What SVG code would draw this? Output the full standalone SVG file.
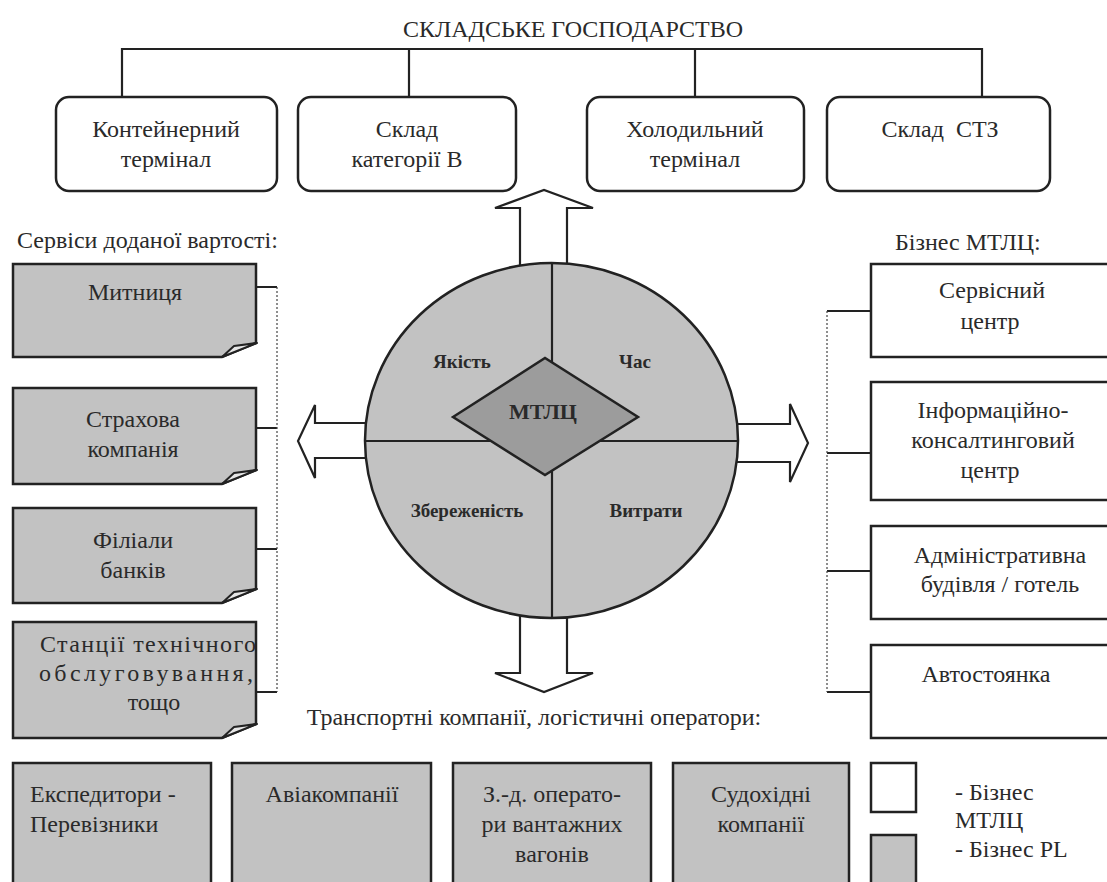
<svg xmlns="http://www.w3.org/2000/svg" width="1107" height="882" viewBox="0 0 1107 882">
<style>
text{font-family:"Liberation Serif","Times New Roman",serif;font-size:24px;fill:#2a2a2a}
.c{text-anchor:middle}
.b{font-weight:bold;font-size:19px}
.m{font-weight:bold;font-size:22px}
.box{fill:#fff;stroke:#222;stroke-width:2.5}
.gbox{fill:#c2c2c2;stroke:#222;stroke-width:2.5}
.fold{fill:#e6e6e6;stroke:#222;stroke-width:2;stroke-linejoin:round}
.ln{fill:none;stroke:#222;stroke-width:2.2}
.dot{fill:none;stroke:#444;stroke-width:1.2;stroke-dasharray:2 2}
.arr{fill:#fff;stroke:#222;stroke-width:2.2;stroke-linejoin:miter}
</style>
<rect width="1107" height="882" fill="#fff"/>

<text id="title" x="573" y="37" class="c">СКЛАДСЬКЕ ГОСПОДАРСТВО</text>

<g id="connectors">
<path class="ln" d="M122,97 V49 H982 V97 M409,49 V97 M695,49 V97"/>
<path class="ln" d="M256,287 H277 M256,428 H277 M256,549 H277 M256,692 H277"/>
<path class="dot" d="M277,287 V692"/>
<path class="ln" d="M827,311 H871 M827,453 H871 M827,571 H871 M827,692 H871"/>
<path class="dot" d="M827,311 V692"/>
<polygon class="arr" points="520,266 520,208 495,208 544,190 593,208 567,208 567,266"/>
<polygon class="arr" points="520,615 520,673 495,673 544,692 593,673 567,673 567,615"/>
<polygon class="arr" points="369,423 315,423 315,405 298,441 315,478 315,458 369,458"/>
<polygon class="arr" points="734,424 790,424 790,404 808,443 790,482 790,462 734,462"/>
</g>

<g id="n-container"><rect class="box" x="56" y="97" width="221" height="94" rx="13"/>
<text x="166" y="137" class="c">Контейнерний</text><text x="166" y="167" class="c">термінал</text></g>
<g id="n-skladB"><rect class="box" x="298" y="97" width="218" height="94" rx="13"/>
<text x="407" y="137" class="c">Склад</text><text x="407" y="167" class="c">категорії В</text></g>
<g id="n-cold"><rect class="box" x="587" y="97" width="217" height="94" rx="13"/>
<text x="695" y="137" class="c">Холодильний</text><text x="695" y="167" class="c">термінал</text></g>
<g id="n-stz"><rect class="box" x="827" y="97" width="223" height="94" rx="13"/>
<text x="940" y="137" class="c" xml:space="preserve">Склад  СТЗ</text></g>

<g id="n-center">
<ellipse cx="551.5" cy="440.5" rx="186.5" ry="177.5" fill="#c2c2c2" stroke="#222" stroke-width="2.5"/>
<path class="ln" d="M552,263 V618 M365,441 H738"/>
<polygon points="453,417 545,358 638,417 545,475" fill="#9c9c9c" stroke="#222" stroke-width="2.5"/>
<text x="543" y="419" class="c m">МТЛЦ</text>
<text x="462" y="368" class="c b">Якість</text>
<text x="635" y="368" class="c b">Час</text>
<text x="467" y="517" class="c b">Збереженість</text>
<text x="646" y="517" class="c b">Витрати</text>
</g>

<text id="h-left" x="17" y="248">Сервіси доданої вартості:</text>
<text id="h-right" x="895" y="250">Бізнес МТЛЦ:</text>

<g id="n-customs"><path class="gbox" d="M13,264 H256 V343 L222,357 H13 Z"/><path class="fold" d="M222,357 L234,346 L257,343 Z"/>
<text x="135" y="300" class="c">Митниця</text></g>
<g id="n-insurance"><path class="gbox" d="M13,388 H256 V470 L222,484 H13 Z"/><path class="fold" d="M222,484 L234,473 L257,470 Z"/>
<text x="133" y="427" class="c">Страхова</text><text x="133" y="457" class="c">компанія</text></g>
<g id="n-banks"><path class="gbox" d="M13,508 H256 V589 L222,603 H13 Z"/><path class="fold" d="M222,603 L234,592 L257,589 Z"/>
<text x="133" y="548" class="c">Філіали</text><text x="133" y="578" class="c">банків</text></g>
<g id="n-service"><path class="gbox" d="M13,622 H256 V724 L222,738 H13 Z"/><path class="fold" d="M222,738 L234,727 L257,724 Z"/>
<text x="148" y="652" class="c" textLength="216">Станції технічного</text>
<text x="146" y="681" class="c" textLength="214">обслуговування,</text>
<text x="154" y="710" class="c">тощо</text></g>

<g id="n-sc"><rect class="box" x="871" y="264" width="250" height="93"/>
<text x="992" y="298" class="c">Сервісний</text><text x="990" y="329" class="c">центр</text></g>
<g id="n-info"><rect class="box" x="871" y="382" width="250" height="118"/>
<text x="993" y="418" class="c">Інформаційно-</text><text x="993" y="448" class="c">консалтинговий</text><text x="990" y="478" class="c">центр</text></g>
<g id="n-admin"><rect class="box" x="871" y="526" width="250" height="93"/>
<text x="1000" y="563" class="c">Адміністративна</text><text x="1000" y="592" class="c">будівля / готель</text></g>
<g id="n-parking"><rect class="box" x="871" y="645" width="250" height="93"/>
<text x="986" y="682" class="c">Автостоянка</text></g>

<text id="h-bottom" x="534" y="725" class="c">Транспортні компанії, логістичні оператори:</text>

<g id="n-exp"><rect class="gbox" x="13" y="763" width="198" height="130"/>
<text x="30" y="802">Експедитори -</text><text x="30" y="832">Перевізники</text></g>
<g id="n-air"><rect class="gbox" x="232" y="763" width="199" height="130"/>
<text x="332" y="802" class="c">Авіакомпанії</text></g>
<g id="n-rail"><rect class="gbox" x="453" y="763" width="198" height="130"/>
<text x="552" y="802" class="c">З.-д. операто-</text><text x="552" y="832" class="c">ри вантажних</text><text x="552" y="862" class="c">вагонів</text></g>
<g id="n-ship"><rect class="gbox" x="673" y="763" width="176" height="130"/>
<text x="761" y="802" class="c">Судохідні</text><text x="761" y="832" class="c">компанії</text></g>

<g id="legend">
<rect class="box" x="871" y="763" width="45" height="49"/>
<rect class="gbox" x="871" y="835" width="45" height="58"/>
<text x="955" y="800">- Бізнес</text>
<text x="955" y="828">МТЛЦ</text>
<text x="955" y="857">- Бізнес PL</text>
</g>
</svg>
